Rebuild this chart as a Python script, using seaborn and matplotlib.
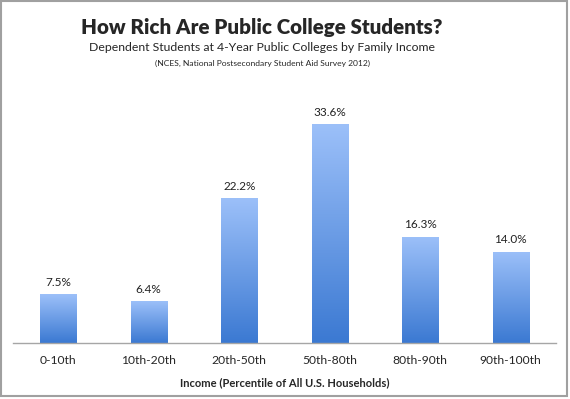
import numpy as np
import pandas as pd
import matplotlib.pyplot as plt
import seaborn as sns
from matplotlib.colors import LinearSegmentedColormap
from matplotlib.patches import Rectangle

# Données
categories = ["0-10th", "10th-20th", "20th-50th", "50th-80th", "80th-90th", "90th-100th"]
shares = [7.5, 6.4, 22.2, 33.6, 16.3, 14.0]
labels = ["7.5%", "6.4%", "22.2%", "33.6%", "16.3%", "14.0%"]

df = pd.DataFrame({"income": categories, "share": shares})

sns.set_theme(style="white")
plt.rcParams["font.family"] = ["Lato", "DejaVu Sans"]

fig = plt.figure(figsize=(5.7, 3.99), dpi=100)
ax = fig.add_axes([0.0228, 0.1404, 0.9526, 0.5874])

sns.barplot(data=df, x="income", y="share", width=0.4, color="#6a9be6", ax=ax)

# dégradé vertical dans chaque barre
cmap = LinearSegmentedColormap.from_list("grad", ["#3b79d2", "#9cc0f9"])
grad = np.linspace(0, 1, 256).reshape(-1, 1)
for p in ax.patches:
    x0, y0 = p.get_x(), p.get_y()
    w, h = p.get_width(), p.get_height()
    im = ax.imshow(grad, cmap=cmap, origin="lower", aspect="auto",
                   extent=[x0, x0 + w, y0, y0 + h], zorder=2)
    im.set_clip_path(p)
    p.set_facecolor("none")
    p.set_edgecolor("#d6e4f7")
    p.set_linewidth(0.6)

for i, (v, lab) in enumerate(zip(shares, labels)):
    ax.text(i, v + 1.0, lab, ha="center", va="bottom", fontsize=8.5, color="#222222")

ax.set_xlim(-0.5, 5.5)
ax.set_ylim(0, 36)
ax.set_yticks([])
ax.set_ylabel("")
ax.tick_params(axis="x", length=0, pad=9, labelsize=8.7)
for s in ["top", "left", "right"]:
    ax.spines[s].set_visible(False)
ax.spines["bottom"].set_color("#a6a6a6")
ax.spines["bottom"].set_linewidth(1.0)
ax.set_xlabel("Income (Percentile of All U.S. Households)", fontsize=8,
              fontweight="bold", labelpad=8)

fig.text(0.46, 0.932, "How Rich Are Public College Students?", ha="center",
         va="center", fontsize=14.8, fontweight="heavy")
fig.text(0.46, 0.88, "Dependent Students at 4-Year Public Colleges by Family Income",
         ha="center", va="center", fontsize=8.8)
fig.text(0.46, 0.842, "(NCES, National Postsecondary Student Aid Survey 2012)",
         ha="center", va="center", fontsize=6.1)

# cadre gris autour de l'image
fig.patches.append(Rectangle((0.002, 0.007), 0.993, 0.99, transform=fig.transFigure,
                             fill=False, edgecolor="#a0a0a0", linewidth=1.5))

plt.savefig("out.png", dpi=100)
